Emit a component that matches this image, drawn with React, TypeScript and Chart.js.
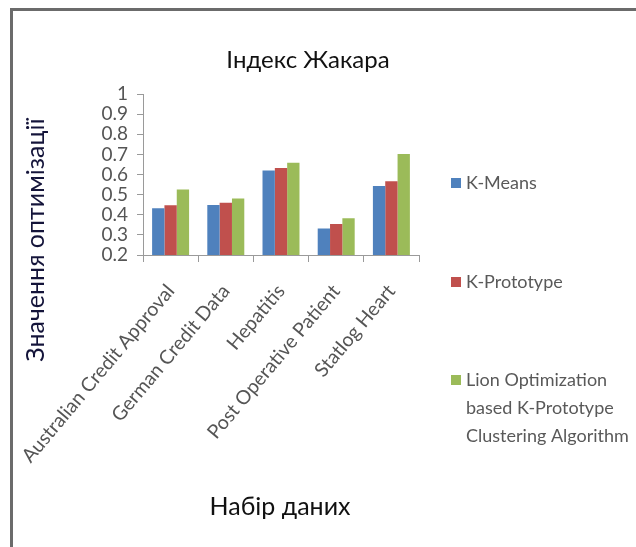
import React, { useEffect, useRef } from "react";
import { Chart, registerables } from "chart.js";

Chart.register(...registerables);

// Datasets on the category axis
const categories = [
  "Australian Credit Approval",
  "German Credit Data",
  "Hepatitis",
  "Post Operative Patient",
  "Statlog Heart",
];

const seriesNames = [
  "K-Means",
  "K-Prototype",
  "Lion Optimization based K-Prototype Clustering Algorithm",
];

// Legend text broken into display lines, one entry per series
const legendLines = [
  ["K-Means"],
  ["K-Prototype"],
  ["Lion Optimization", "based K-Prototype", "Clustering Algorithm"],
];

const kMeans = [0.432, 0.448, 0.62, 0.332, 0.543];
const kPrototype = [0.447, 0.46, 0.632, 0.354, 0.566];
const lionKPrototype = [0.526, 0.481, 0.659, 0.382, 0.702];

const seriesColors = ["#4F81BD", "#C0504D", "#9BBB59"];

const yTicks = [0.2, 0.3, 0.4, 0.5, 0.6, 0.7, 0.8, 0.9, 1];

const chartTitle = "Індекс Жакара";
const yTitle = "Значення оптимізації";
const xTitle = "Набір даних";

const FONT = "Lato, 'Open Sans', sans-serif";

// Title, axis titles and the side legend are painted at fixed spots
const decorations = {
  id: "decorations",
  afterDraw(chart: any) {
    const ctx = chart.ctx as CanvasRenderingContext2D;
    ctx.save();
    ctx.textBaseline = "middle";

    ctx.fillStyle = "#111111";
    ctx.font = `24px ${FONT}`;
    ctx.textAlign = "center";
    ctx.fillText(chartTitle, 308, 60);

    ctx.font = `25px ${FONT}`;
    ctx.fillText(xTitle, 280, 507);

    ctx.save();
    ctx.translate(36, 240);
    ctx.rotate(-Math.PI / 2);
    ctx.fillStyle = "#14143a";
    ctx.font = `25px ${FONT}`;
    ctx.fillText(yTitle, 0, 0);
    ctx.restore();

    // legend
    const rows = [183, 282, 380];
    ctx.textAlign = "left";
    ctx.font = `18px ${FONT}`;
    chart.data.datasets.forEach((ds: any, i: number) => {
      const y = rows[i];
      ctx.fillStyle = ds.backgroundColor;
      ctx.fillRect(451, y - 5, 10, 10);
      ctx.fillStyle = "#595959";
      legendLines[i].forEach((line, j) => {
        ctx.fillText(line, 466, y + j * 28);
      });
    });
    ctx.restore();
  },
};

export default function App() {
  const canvasRef = useRef<HTMLCanvasElement | null>(null);

  useEffect(() => {
    if (!canvasRef.current) return;
    const chart = new Chart(canvasRef.current, {
      type: "bar",
      data: {
        labels: categories,
        datasets: [kMeans, kPrototype, lionKPrototype].map((values, i) => ({
          label: seriesNames[i],
          data: values,
          backgroundColor: seriesColors[i],
          borderWidth: 0,
          categoryPercentage: 0.67,
          barPercentage: 1,
        })),
      },
      options: {
        animation: false,
        responsive: false,
        maintainAspectRatio: false,
        layout: { padding: { left: 0, top: 94, right: 217, bottom: 0 } },
        plugins: {
          legend: { display: false },
          title: { display: false },
          tooltip: { enabled: false },
        },
        scales: {
          x: {
            afterFit(scale: any) {
              scale.height = 292;
              scale.paddingLeft = 0;
              scale.paddingRight = 0;
            },
            border: { color: "#9a9a9a", width: 1 },
            grid: {
              offset: true,
              drawOnChartArea: false,
              drawTicks: true,
              tickLength: 7,
              color: "#9a9a9a",
            },
            ticks: {
              minRotation: 50,
              maxRotation: 50,
              autoSkip: false,
              padding: 18,
              color: "#555555",
              font: { family: FONT, size: 19.5 },
            },
          },
          y: {
            min: 0.2,
            max: 1,
            afterFit(scale: any) {
              scale.width = 143;
              scale.paddingTop = 0;
              scale.paddingBottom = 0;
            },
            afterBuildTicks(scale: any) {
              scale.ticks = yTicks.map((v) => ({ value: v }));
            },
            border: { color: "#9a9a9a", width: 1 },
            grid: {
              drawOnChartArea: false,
              drawTicks: true,
              tickLength: 6,
              color: "#9a9a9a",
            },
            ticks: {
              autoSkip: false,
              padding: 9,
              color: "#555555",
              font: { family: FONT, size: 19 },
              callback: (v: any) => String(Math.round(Number(v) * 10) / 10),
            },
          },
        },
      },
      plugins: [decorations],
    });
    return () => chart.destroy();
  }, []);

  return (
    <div style={{ position: "fixed", left: 0, top: 0, width: 636, height: 547, background: "#ffffff" }}>
      <div
        style={{
          position: "absolute",
          left: 10,
          top: 8,
          width: 626,
          height: 539,
          borderTop: "3px solid #6b6b6b",
          borderLeft: "3px solid #6b6b6b",
          boxSizing: "border-box",
        }}
      />
      <canvas
        ref={canvasRef}
        width={636}
        height={547}
        style={{ position: "absolute", left: 0, top: 0, width: 636, height: 547 }}
      />
    </div>
  );
}
